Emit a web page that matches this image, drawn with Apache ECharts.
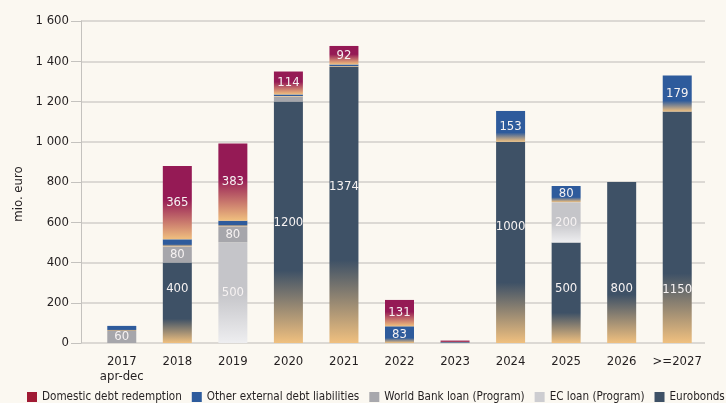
<!DOCTYPE html>
<html>
<head>
<meta charset="utf-8">
<script src="https://cdn.jsdelivr.net/npm/echarts@6/dist/echarts.min.js"></script>
<style>
  html, body { margin: 0; padding: 0; background: #fbf8f1; }
  #chart { width: 726px; height: 403px; }
</style>
</head>
<body>
<div id="chart"></div>
<script>
// data (mio. euro)
var categories = ['2017\napr-dec', '2018', '2019', '2020', '2021', '2022', '2023', '2024', '2025', '2026', '>=2027']
var eurobonds = [0, 400, 0, 1200, 1374, 0, 0, 1000, 500, 800, 1150]
var ecLoan = [0, 0, 500, 0, 0, 0, 0, 0, 200, 0, 0]
var worldBank = [60, 80, 80, 25, 0, 0, 0, 0, 0, 0, 0]
var otherExternal = [25, 35, 28, 10, 10, 83, 4, 153, 80, 0, 179]
var domestic = [0, 365, 383, 114, 92, 131, 8, 0, 0, 0, 0]
var yTicks = [0, 200, 400, 600, 800, 1000, 1200, 1400, 1600]

// the original moves some eurobond labels away from the middle of the bar
var eurobondLabelShift = [0, -14, 0, 0, -18, 0, 0, -16, -4, 26, 62]

var font = "'DejaVu Sans Condensed', 'Liberation Sans Narrow', sans-serif"
var peach = '#f0c07f'

function fade(top, hold, bottom) {
  return {
    type: 'linear', x: 0, y: 0, x2: 0, y2: 1,
    colorStops: [
      { offset: 0, color: top },
      { offset: hold, color: top },
      { offset: 1, color: bottom }
    ]
  }
}

function fmtThousands(v) {
  if (v >= 1000) return Math.floor(v / 1000) + ' ' + String(v % 1000).padStart(3, '0')
  return String(v)
}

var barLabel = {
  show: true,
  position: 'inside',
  color: '#f6f2f2',
  fontFamily: font,
  fontSize: 13,
  formatter: function (p) { return p.value >= 50 ? p.value : '' }
}

function makeSeries(name, values, color, shifts) {
  return {
    name: name,
    type: 'bar',
    stack: 'total',
    xAxisIndex: 0,
    yAxisIndex: 0,
    barWidth: 29,
    itemStyle: { color: color },
    label: barLabel,
    data: values.map(function (v, i) {
      var item = { value: v }
      if (shifts && shifts[i]) item.label = { offset: [0, shifts[i]] }
      return item
    })
  }
}

var chart = echarts.init(document.getElementById('chart'))
chart.setOption({
  backgroundColor: '#fbf8f1',
  animation: false,
  textStyle: { fontFamily: font, color: '#231f20' },
  grid: [
    { left: 94, right: 21, top: 21, bottom: 60 },
    { left: 81, right: 21, top: 21, bottom: 60 }
  ],
  xAxis: [
    {
      type: 'category',
      gridIndex: 0,
      data: categories,
      axisLine: { show: false },
      axisTick: { show: false },
      axisLabel: {
        color: '#231f20',
        fontFamily: font,
        fontSize: 13,
        lineHeight: 15,
        margin: 11,
        interval: 0
      }
    },
    { type: 'category', gridIndex: 1, data: [''], show: false }
  ],
  yAxis: [
    { type: 'value', gridIndex: 0, min: 0, max: yTicks[yTicks.length - 1], show: false },
    {
      type: 'value',
      gridIndex: 1,
      min: yTicks[0],
      max: yTicks[yTicks.length - 1],
      interval: yTicks[1] - yTicks[0],
      axisLine: { show: true, lineStyle: { color: '#c4c2be', width: 1 } },
      axisTick: { show: true, length: 10, lineStyle: { color: '#c4c2be' } },
      axisLabel: {
        color: '#231f20',
        fontFamily: font,
        fontSize: 13,
        margin: 12,
        formatter: fmtThousands
      },
      splitLine: { show: true, lineStyle: { color: '#d2cfca', width: 1.5 } }
    }
  ],
  legend: {
    left: 22,
    top: 386,
    width: 704,
    itemWidth: 10,
    itemHeight: 10,
    itemGap: 10,
    icon: 'rect',
    textStyle: { fontFamily: font, fontSize: 11.6, color: '#231f20' },
    data: [
      { name: 'Domestic debt redemption', itemStyle: { color: '#a01a34' } },
      { name: 'Other external debt liabilities', itemStyle: { color: '#2d5b9d' } },
      { name: 'World Bank loan (Program)', itemStyle: { color: '#a8a8ad' } },
      { name: 'EC loan (Program)', itemStyle: { color: '#cdcdd1' } },
      { name: 'Eurobonds', itemStyle: { color: '#3e5166' } }
    ]
  },
  graphic: [
    {
      type: 'text',
      x: 19,
      y: 194,
      rotation: Math.PI / 2,
      style: {
        text: 'mio. euro',
        fill: '#231f20',
        font: '13px ' + font,
        textAlign: 'center',
        textVerticalAlign: 'middle'
      }
    }
  ],
  series: [
    makeSeries('Eurobonds', eurobonds, fade('#3e5166', 0.7, peach), eurobondLabelShift),
    makeSeries('EC loan (Program)', ecLoan, fade('#c5c5c9', 0.5, '#eeeef0')),
    makeSeries('World Bank loan (Program)', worldBank, '#a6a6ab'),
    makeSeries('Other external debt liabilities', otherExternal, fade('#2e5b9c', 0.7, peach)),
    makeSeries('Domestic debt redemption', domestic, fade('#951a55', 0.45, peach))
  ]
})
</script>
</body>
</html>
